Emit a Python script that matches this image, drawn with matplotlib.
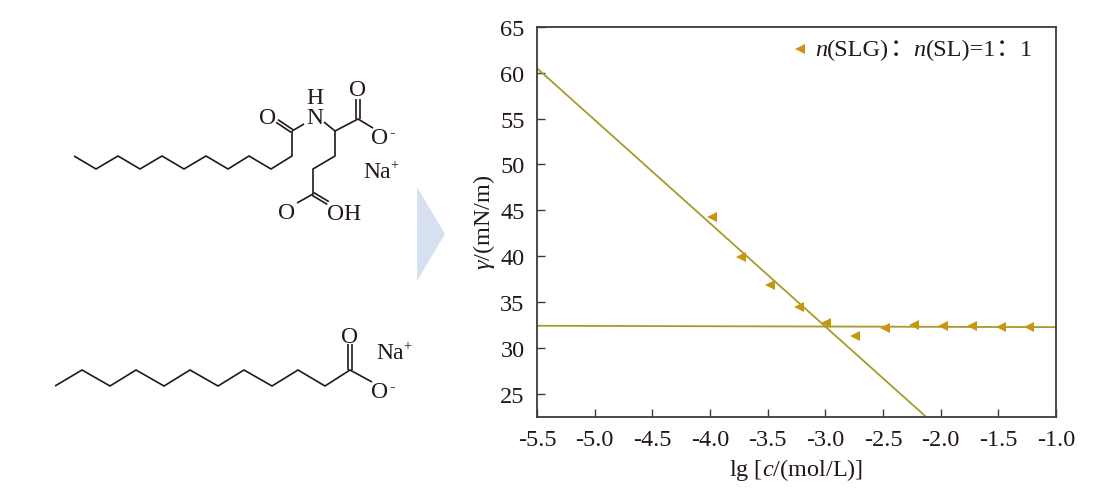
import matplotlib
matplotlib.use('Agg')
import matplotlib.pyplot as plt

plt.rcParams['font.family'] = ['Liberation Serif', 'Noto Sans CJK SC']
plt.rcParams['mathtext.fontset'] = 'custom'
plt.rcParams['mathtext.it'] = 'Liberation Serif:italic'
plt.rcParams['mathtext.rm'] = 'Liberation Serif'

# measured data
lg_c = [-3.98, -3.73, -3.48, -3.23, -2.99, -2.74, -2.48, -2.23, -1.98, -1.73, -1.48, -1.23]
gamma = [44.3, 39.9, 36.8, 34.5, 32.7, 31.3, 32.2, 32.5, 32.4, 32.35, 32.3, 32.3]

# fitted lines
steep_x = [-5.5, -2.13]
steep_y = [60.5, 22.5]
flat_x = [-5.5, -1.0]
flat_y = [32.4, 32.25]

x_ticks = [-5.5, -5.0, -4.5, -4.0, -3.5, -3.0, -2.5, -2.0, -1.5, -1.0]
y_ticks = [25, 30, 35, 40, 45, 50, 55, 60, 65]

# molecule drawings, in picture pixels
slg_chain = [(74, 157), (96, 170), (118, 157), (140, 170), (162, 157), (184, 170),
             (206, 157), (228, 170), (249, 157), (271, 170), (292, 157), (292, 132)]
slg_bonds = [[(292, 132), (304, 125)], [(324, 123), (335, 132), (358, 120), (373, 129)],
             [(335, 132), (335, 157), (313, 170), (313, 195), (297, 204)]]
slg_double = [[(292, 132), (277, 122)], [(358, 120), (358, 100)], [(313, 195), (328, 204)]]
sl_chain = [(55, 387), (82, 371), (110, 387), (136, 371), (164, 387), (190, 371), (218, 387),
            (244, 371), (272, 387), (298, 371), (325, 387), (350, 371), (372, 383)]
sl_double = [[(350, 371), (350, 345)]]
arrow_shape = [(417, 188), (445, 235), (417, 282)]

ink = '#231815'
fig = plt.figure(figsize=(11.2, 5.02), dpi=100)

# background layer in pixel coordinates for the structures
bg = fig.add_axes([0, 0, 1, 1])
bg.set_xlim(0, 1120)
bg.set_ylim(502, 0)
bg.axis('off')

bg.fill([p[0] for p in arrow_shape], [p[1] for p in arrow_shape], color='#d6e0f1', lw=0)


def bond(pts):
    bg.plot([p[0] for p in pts], [p[1] for p in pts], color=ink, lw=1.2,
            solid_joinstyle='miter', solid_capstyle='butt')


def double_bond(a, b, gap=1.6):
    # two parallel strokes either side of the a-b axis
    dx, dy = b[0] - a[0], b[1] - a[1]
    n = (dx * dx + dy * dy) ** 0.5
    ox, oy = -dy / n * gap, dx / n * gap
    bond([(a[0] + ox, a[1] + oy), (b[0] + ox, b[1] + oy)])
    bond([(a[0] - ox, a[1] - oy), (b[0] - ox, b[1] - oy)])


bond(slg_chain)
for b in slg_bonds:
    bond(b)
for d in slg_double:
    double_bond(d[0], d[1])
bond(sl_chain)
for d in sl_double:
    double_bond(d[0], d[1])

chem_labels = [
    (268, 119, 'O'), (315, 99, 'H'), (315, 119, 'N'), (358, 90, 'O'), (380, 139, 'O'),
    (287, 214, 'O'), (344, 215, 'OH'), (350, 338, 'O'), (380, 393, 'O'),
]
for x, y, s in chem_labels:
    bg.text(x, y, s, fontsize=17, color=ink, ha='center', va='center')
bg.text(363, 173, 'Na', fontsize=17, color=ink, ha='left', va='center')
bg.text(390, 166, '+', fontsize=10, color=ink, ha='left', va='center')
bg.text(376, 354, 'Na', fontsize=17, color=ink, ha='left', va='center')
bg.text(403, 347, '+', fontsize=10, color=ink, ha='left', va='center')
bg.text(389, 133, '-', fontsize=12, color=ink, ha='left', va='center')
bg.text(389, 387, '-', fontsize=12, color=ink, ha='left', va='center')

# main plot
ax = fig.add_axes([537 / 1120, 1 - 417.5 / 502, 519 / 1120, 389.5 / 502])
ax.patch.set_alpha(0)
ax.plot(steep_x, steep_y, color='#a89a2c', lw=1.3)
ax.plot(flat_x, flat_y, color='#a89a2c', lw=1.3)
ax.plot(lg_c, gamma, ls='none', marker='<', ms=7, color='#c8960f', mew=0)
ax.set_xlim(-5.5, -1.0)
ax.set_ylim(22.5, 65)
ax.set_xticks(x_ticks, [f'{v:.1f}' for v in x_ticks])
ax.set_yticks(y_ticks)
ax.tick_params(direction='in', length=6, width=1, color='#3e3a39', labelsize=17.5,
               labelcolor=ink, pad=9)
for s in ax.spines.values():
    s.set_color('#3e3a39')
    s.set_linewidth(1.3)

ax.set_xlabel('lg [$\\mathit{c}$/(mol/L)]', fontsize=17.5, color=ink, labelpad=4)
ax.set_ylabel('$\\mathit{\\gamma}$/(mN/m)', fontsize=17.5, color=ink, labelpad=2)

# legend entry
ax.plot([-3.22], [62.55], ls='none', marker='<', ms=7, color='#c8960f', mew=0)
runs = [('n', 'italic'), ('(SLG)', 'normal'), ('：', 'normal'), ('n', 'italic'),
        ('(SL)=1', 'normal'), ('：', 'normal'), ('1', 'normal')]
prev = ax.annotate(runs[0][0], xy=(815 / 1120, 1 - 50 / 502), xycoords='figure fraction',
                   fontsize=17.5, style=runs[0][1], color=ink, va='center', ha='left')
for s, st in runs[1:]:
    prev = ax.annotate(s, xy=(1, 0.5), xycoords=prev, fontsize=17.5, style=st, color=ink,
                       va='center', ha='left')

fig.savefig('out.png', dpi=100)
